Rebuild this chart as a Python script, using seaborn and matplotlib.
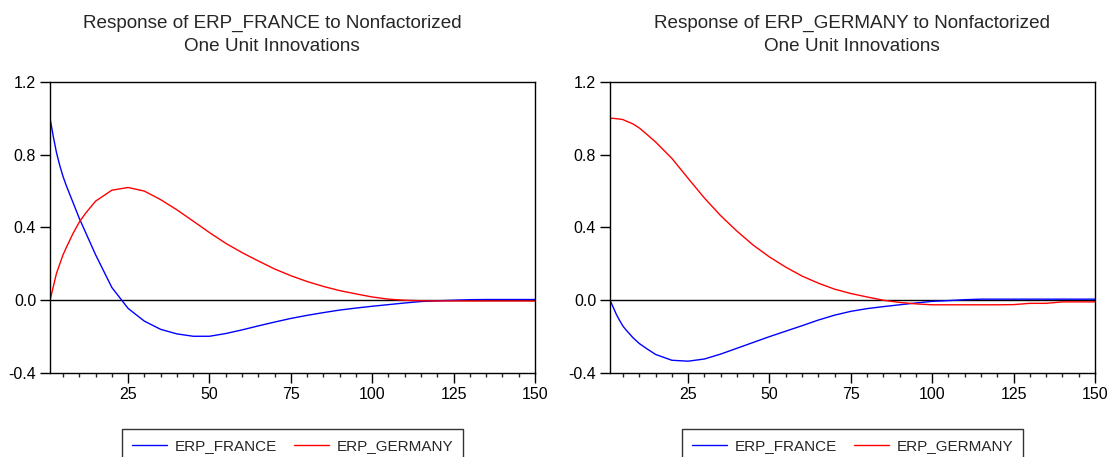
import pandas as pd
import numpy as np
import matplotlib
matplotlib.use("Agg")
import matplotlib.pyplot as plt
import seaborn as sns
from matplotlib.ticker import MultipleLocator

periods = [1, 2, 3, 4, 5, 6, 8, 10, 12, 15, 20, 25, 30, 35, 40, 45, 50, 55, 60,
           65, 70, 75, 80, 85, 90, 95, 100, 105, 110, 115, 120, 125, 130, 135,
           140, 145, 150]

# Response of ERP_FRANCE
fr_to_fr = [1.0, 0.9, 0.81, 0.74, 0.68, 0.63, 0.54, 0.45, 0.37, 0.25, 0.07,
            -0.045, -0.115, -0.16, -0.185, -0.198, -0.198, -0.183, -0.163,
            -0.141, -0.12, -0.10, -0.083, -0.068, -0.054, -0.043, -0.033,
            -0.024, -0.015, -0.007, -0.003, 0.0, 0.003, 0.004, 0.004, 0.004,
            0.004]
fr_to_de = [0.0, 0.075, 0.149, 0.2, 0.25, 0.29, 0.365, 0.43, 0.48, 0.545, 0.605,
            0.62, 0.6, 0.553, 0.497, 0.435, 0.372, 0.313, 0.262, 0.216, 0.172,
            0.135, 0.103, 0.076, 0.053, 0.035, 0.018, 0.006, 0.0, -0.003,
            -0.004, -0.004, -0.004, -0.004, -0.004, -0.004, -0.004]

# Response of ERP_GERMANY
de_to_fr = [0.0, -0.04, -0.08, -0.113, -0.143, -0.165, -0.205, -0.238, -0.263,
            -0.298, -0.33, -0.335, -0.323, -0.296, -0.264, -0.232, -0.2,
            -0.17, -0.14, -0.109, -0.082, -0.061, -0.046, -0.035, -0.025,
            -0.015, -0.006, -0.002, 0.003, 0.006, 0.006, 0.006, 0.006, 0.006,
            0.006, 0.006, 0.006]
de_to_de = [1.0, 1.0, 0.998, 0.996, 0.993, 0.985, 0.97, 0.947, 0.917, 0.87,
            0.78, 0.67, 0.562, 0.465, 0.38, 0.303, 0.238, 0.182, 0.133, 0.094,
            0.061, 0.037, 0.018, 0.0, -0.012, -0.02, -0.025, -0.025, -0.025,
            -0.025, -0.025, -0.024, -0.017, -0.017, -0.009, -0.009, -0.009]

titles = ["Response of ERP_FRANCE to Nonfactorized\nOne Unit Innovations",
          "Response of ERP_GERMANY to Nonfactorized\nOne Unit Innovations"]
series_names = ["ERP_FRANCE", "ERP_GERMANY"]
colors = {"ERP_FRANCE": "#0000ff", "ERP_GERMANY": "#ff0000"}

sns.set_style("ticks")
plt.rcParams['font.family'] = ['Liberation Sans', 'DejaVu Sans']

fig = plt.figure(figsize=(11.12, 4.57), dpi=100)
ax1 = fig.add_axes([0.045, 0.1838, 0.436, 0.6368])
ax2 = fig.add_axes([0.5486, 0.1838, 0.436, 0.6368])

panels = [(ax1, fr_to_fr, fr_to_de, 272), (ax2, de_to_fr, de_to_de, 852)]

for i, (ax, blue, red, cx) in enumerate(panels):
    df = pd.DataFrame({
        "period": periods * 2,
        "value": blue + red,
        "shock": ["ERP_FRANCE"] * len(periods) + ["ERP_GERMANY"] * len(periods),
    })
    ax.axhline(0, color="black", lw=1, zorder=1)
    sns.lineplot(data=df, x="period", y="value", hue="shock",
                 palette=colors, linewidth=1, ax=ax, legend=False, zorder=2)
    ax.set_xlim(1, 150)
    ax.set_ylim(-0.4, 1.2)
    ax.set_xticks([25, 50, 75, 100, 125, 150])
    ax.xaxis.set_minor_locator(MultipleLocator(5))
    ax.set_yticks([-0.4, 0.0, 0.4, 0.8, 1.2])
    ax.set_yticklabels(["-0.4", "0.0", "0.4", "0.8", "1.2"])
    ax.tick_params(axis="both", which="major", length=7, width=1,
                   labelsize=11.5, colors="black", pad=3)
    ax.tick_params(axis="x", which="minor", length=3, width=1)
    ax.set_xlabel("")
    ax.set_ylabel("")
    for sp in ax.spines.values():
        sp.set_visible(True)
        sp.set_color("black")
        sp.set_linewidth(1)
    fig.text(cx / 1112, 1 - 35 / 457, titles[i], ha="center", va="center",
             fontsize=13.6, linespacing=1.5)
    handles = [plt.Line2D([], [], color=colors[n], lw=1) for n in series_names]
    leg = ax.legend(handles, series_names, loc="upper center",
                    bbox_to_anchor=(0.5, -0.166), ncol=2, frameon=True,
                    fancybox=False, edgecolor="black", fontsize=11,
                    handlelength=2.3, handletextpad=0.5, columnspacing=1.1,
                    borderpad=0.65)
    leg.get_frame().set_linewidth(1)

fig.savefig("out.png", dpi=100)
